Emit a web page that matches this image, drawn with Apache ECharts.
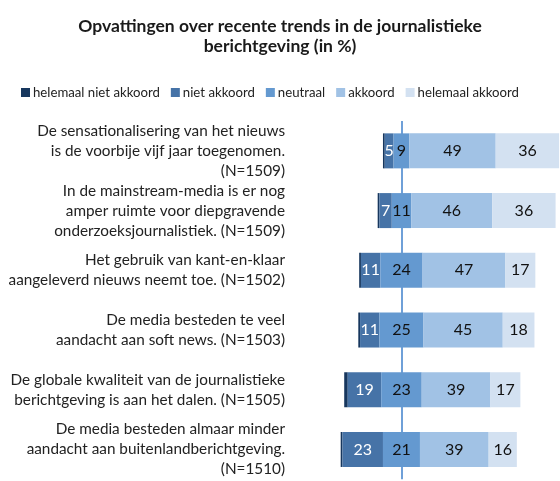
<!DOCTYPE html>
<html>
<head>
<meta charset="utf-8">
<script src="https://cdn.jsdelivr.net/npm/echarts@6/dist/echarts.min.js"></script>
<style>
  html, body { margin: 0; padding: 0; background: #fff; }
  #chart { width: 560px; height: 481px; }
</style>
</head>
<body>
<div id="chart"></div>
<script>
// stellingen (van boven naar onder)
var categories = [
    'De sensationalisering van het nieuws\nis de voorbije vijf jaar toegenomen.\n(N=1509)',
    'In de mainstream-media is er nog\namper ruimte voor diepgravende\nonderzoeksjournalistiek. (N=1509)',
    'Het gebruik van kant-en-klaar\naangeleverd nieuws neemt toe. (N=1502)',
    'De media besteden te veel\naandacht aan soft news. (N=1503)',
    'De globale kwaliteit van de journalistieke\nberichtgeving is aan het dalen. (N=1505)',
    'De media besteden almaar minder\naandacht aan buitenlandberichtgeving.\n(N=1510)'
];
var helemaalNietAkkoord = [1, 1, 1, 1, 2, 1];
var nietAkkoord = [5, 7, 11, 11, 19, 23];
var neutraal = [9, 11, 24, 25, 23, 21];
var akkoord = [49, 46, 47, 45, 39, 39];
var helemaalAkkoord = [36, 36, 17, 18, 17, 16];

// midden van "neutraal" ligt op dit punt van de as
var midden = 40;
var offset = categories.map(function (c, i) {
    return midden - helemaalNietAkkoord[i] - nietAkkoord[i] - neutraal[i] / 2;
});

var font = 'Lato, "Open Sans", sans-serif';

function reeks(naam, data, kleur, labelKleur, toonLabel) {
    return {
        name: naam,
        type: 'bar',
        stack: 'totaal',
        barWidth: 35,
        z: 3,
        data: data,
        itemStyle: { color: kleur },
        label: {
            show: toonLabel,
            position: 'inside',
            color: labelKleur,
            fontFamily: font,
            fontSize: 16
        }
    };
}

var myChart = echarts.init(document.getElementById('chart'));

var option = {
    animation: false,
    title: {
        text: 'Opvattingen over recente trends in de journalistieke\nberichtgeving (in %)',
        left: 'center',
        top: 11,
        textStyle: {
            fontFamily: font,
            fontSize: 17.5,
            fontWeight: 'bold',
            color: '#1a1a1a',
            lineHeight: 20
        }
    },
    legend: {
        left: 16,
        top: 81,
        itemWidth: 9,
        itemHeight: 9,
        itemGap: 11,
        icon: 'rect',
        data: ['helemaal niet akkoord', 'niet akkoord', 'neutraal', 'akkoord', 'helemaal akkoord'],
        textStyle: { fontFamily: font, fontSize: 13.2, color: '#222', padding: [0, 0, 0, -2] }
    },
    grid: {
        left: 331,
        right: -4,
        top: 121,
        bottom: -4
    },
    xAxis: {
        type: 'value',
        min: 0,
        max: 130,
        show: false
    },
    yAxis: {
        type: 'category',
        inverse: true,
        data: categories,
        axisLine: { show: false },
        axisTick: { show: false },
        axisLabel: {
            interval: 0,
            margin: 46,
            fontFamily: font,
            fontSize: 15.3,
            lineHeight: 20,
            color: '#222',
            align: 'right',
            padding: [4, 0, 0, 0]
        }
    },
    series: [
        {
            name: 'offset',
            type: 'bar',
            stack: 'totaal',
            barWidth: 35,
            z: 1,
            data: offset,
            itemStyle: { color: 'transparent' },
            silent: true,
            markLine: {
                silent: true,
                z: 1,
                symbol: 'none',
                label: { show: false },
                lineStyle: { color: '#6fa0d8', width: 2, type: 'solid' },
                data: [{ xAxis: midden }]
            }
        },
        reeks('helemaal niet akkoord', helemaalNietAkkoord, '#17375e', '#fff', false),
        reeks('niet akkoord', nietAkkoord, '#4673a7', '#fff', true),
        reeks('neutraal', neutraal, '#6499d0', '#111', true),
        reeks('akkoord', akkoord, '#a1c2e5', '#111', true),
        reeks('helemaal akkoord', helemaalAkkoord, '#d3e1f1', '#111', true)
    ]
};

myChart.setOption(option);
</script>
</body>
</html>
